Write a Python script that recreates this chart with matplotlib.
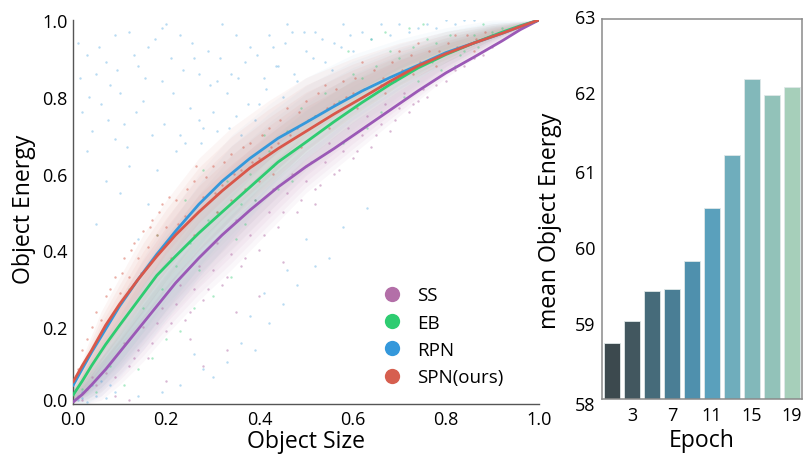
import matplotlib
matplotlib.use("Agg")
import matplotlib.pyplot as plt
from matplotlib.transforms import ScaledTranslation
from matplotlib.lines import Line2D

plt.rcParams['font.family'] = ['Open Sans', 'DejaVu Sans']

names = ["SS", "EB", "RPN", "SPN(ours)"]
marker_colors = ["#b36fa8", "#2ecc71", "#3498db", "#d65f4f"]
line_colors = ["#9b59b6", "#2ecc71", "#3498db", "#d9574a"]

curve_x = [0, .02, .04, .07, .1, .14, .18, .22, .27, .32, .38, .44, .5, .56, .62, .68, .74, .8, .86, .92, .96, 1]
curve_ss = [.005, .025, .05, .09, .135, .195, .255, .315, .38, .44, .505, .565, .618, .665, .715, .765, .815, .862, .903, .945, .975, 1]
curve_eb = [.023, .06, .10, .155, .205, .27, .335, .385, .445, .50, .565, .63, .682, .735, .785, .832, .875, .91, .94, .968, .985, 1]
curve_rpn = [.048, .092, .135, .195, .255, .325, .39, .45, .52, .58, .64, .692, .733, .775, .815, .85, .882, .915, .94, .965, .983, 1]
curve_spn = [.057, .10, .14, .205, .26, .325, .385, .44, .50, .555, .615, .665, .71, .755, .797, .84, .88, .912, .94, .965, .983, 1]

band_x = [0, .03, .06, .1, .15, .2, .27, .34, .42, .5, .6, .7, .8, .9, 1]
spn_hi = [.05, .15, .24, .33, .44, .53, .64, .72, .79, .85, .90, .94, .97, .99, 1]
spn_lo = [0, .03, .08, .14, .22, .30, .40, .48, .57, .66, .75, .83, .89, .95, 1]
rpn_hi = [.05, .12, .19, .27, .38, .48, .60, .70, .78, .85, .91, .95, .98, 1, 1]
rpn_lo = [0, 0, .02, .07, .14, .22, .33, .43, .54, .64, .74, .82, .89, .95, 1]
eb_hi = [.04, .10, .16, .23, .33, .41, .52, .61, .70, .78, .86, .92, .97, .99, 1]
eb_lo = [0, 0, .03, .08, .15, .22, .31, .40, .50, .60, .70, .79, .87, .94, 1]
ss_hi = [.02, .07, .12, .18, .26, .34, .44, .53, .62, .70, .79, .86, .92, .97, 1]
ss_lo = [0, 0, .01, .05, .11, .18, .27, .35, .45, .55, .65, .75, .85, .93, 1]
band_layers = [1.0, .8, .6, .4, .2]

# points
rpn_pts = [(.01, .94), (.03, .91), (.05, .86), (.07, .89), (.09, .96), (.10, .81), (.12, .97), (.13, .91), (.14, .88), (.16, .93),
           (.02, .76), (.04, .71), (.06, .78), (.08, .83), (.11, .73), (.15, .79), (.17, .70), (.19, .84), (.21, .90), (.23, .96),
           (.25, .77), (.27, .86), (.29, .92), (.31, .71), (.33, .81), (.35, .96), (.37, .89), (.39, .74), (.41, .85), (.43, .93),
           (.45, .80), (.47, .97), (.18, .61), (.22, .66), (.24, .68), (.26, .90), (.28, .72), (.30, .76), (.32, .99), (.34, .86),
           (.36, .70), (.38, .93), (.40, .78), (.42, .96), (.44, .88), (.46, .99), (.48, .84), (.50, .92), (.52, .97), (.54, .89),
           (.56, .94), (.58, .99), (.60, .92), (.62, .97), (.64, .95), (.66, .99), (.68, .96), (.70, .99), (.72, .97), (.74, .98),
           (.76, .99), (.78, .98), (.80, 1.0), (.82, .99), (.84, 1.0), (.86, 1.0), (.20, .99), (.12, .62), (.07, .58), (.03, .66),
           (.16, .52), (.10, .55), (.05, .47), (.09, .69), (.14, .43), (.19, .98), (.23, .70), (.27, .74), (.31, .84), (.35, .75),
           (.015, .85), (.035, .80), (.055, .93), (.075, .74), (.095, .87), (.115, .67), (.135, .76), (.155, .85), (.175, .95), (.195, .73),
           (.215, .81), (.235, .87), (.255, .94), (.275, .68), (.295, .83), (.315, .90), (.335, .72), (.355, .85), (.375, .78), (.395, .91),
           (.415, .82), (.435, .88), (.455, .94), (.475, .86), (.495, .97), (.515, .90), (.535, .95), (.555, .87), (.575, .93), (.595, .96),
           (.02, .03), (.03, .005), (.05, .02), (.07, .015), (.09, .03), (.04, .05), (.06, .06), (.08, .05), (.01, .01), (.02, .015),
           (.30, .07), (.33, .11), (.36, .16), (.39, .14), (.42, .21), (.45, .26), (.48, .31), (.52, .36), (.55, .38), (.26, .13),
           (.19, .03), (.23, .05), (.14, .02), (.28, .09), (.38, .23), (.41, .29), (.46, .35), (.50, .43), (.58, .46), (.63, .51)]
eb_pts = [(.02, .04), (.05, .03), (.08, .10), (.11, .05), (.14, .09), (.17, .12), (.20, .17), (.23, .19), (.26, .25), (.30, .28),
          (.34, .33), (.38, .60), (.42, .66), (.46, .71), (.50, .62), (.54, .81), (.58, .68), (.62, .85), (.66, .76), (.70, .90),
          (.74, .84), (.78, .94), (.82, .88), (.86, .96), (.90, .97), (.12, .30), (.18, .44), (.24, .53), (.28, .61), (.36, .52),
          (.44, .56), (.52, .75), (.60, .86), (.68, .92), (.76, .95), (.31, .50), (.37, .47), (.41, .70), (.47, .58), (.49, .77),
          (.55, .66), (.57, .79), (.63, .72), (.65, .88), (.71, .80), (.73, .93), (.79, .87), (.81, .96), (.84, .92), (.88, .99),
          (.15, .25), (.19, .30), (.22, .36), (.25, .42), (.27, .35), (.29, .48), (.33, .58), (.35, .43), (.39, .53), (.43, .62),
          (.92, .98), (.72, .98), (.75, .99), (.67, .97), (.59, .92), (.64, .95), (.69, .84), (.77, .89), (.83, .91), (.87, .93)]
spn_pts = [(.01, .09), (.02, .14), (.03, .17), (.04, .20), (.05, .24), (.06, .22), (.07, .28), (.08, .30), (.09, .33), (.10, .29),
           (.11, .38), (.12, .33), (.13, .42), (.14, .38), (.15, .45), (.16, .41), (.17, .48), (.18, .44), (.19, .52), (.20, .46),
           (.22, .53), (.24, .49), (.26, .58), (.28, .54), (.30, .62), (.32, .57), (.34, .65), (.36, .61), (.38, .68), (.40, .64),
           (.42, .72), (.44, .68), (.46, .77), (.48, .72), (.50, .79), (.52, .75), (.54, .83), (.56, .78), (.58, .84), (.60, .81),
           (.105, .34), (.125, .40), (.145, .34), (.165, .46), (.185, .50), (.205, .54), (.225, .47), (.245, .56), (.265, .62), (.285, .59),
           (.305, .55), (.325, .63), (.345, .60), (.365, .67), (.385, .63), (.405, .70), (.425, .67), (.445, .74), (.465, .70), (.485, .76),
           (.505, .74), (.525, .81), (.545, .77), (.565, .82), (.585, .80), (.605, .85), (.625, .82), (.645, .87), (.665, .85), (.685, .89),
           (.705, .87), (.725, .91), (.745, .89), (.765, .92), (.785, .92), (.805, .94), (.825, .93), (.845, .96), (.865, .95), (.885, .97),
           (.62, .89), (.66, .83), (.70, .92), (.74, .94), (.78, .88), (.82, .96), (.86, .92), (.90, .96), (.34, .53), (.40, .58),
           (.21, .38), (.26, .44), (.31, .50), (.37, .56), (.43, .60), (.49, .67), (.55, .72), (.61, .77), (.67, .81), (.73, .86)]
ss_pts = [(.01, .02), (.02, .01), (.03, .04), (.04, .07), (.05, .05), (.07, .08), (.09, .07), (.11, .16), (.13, .12), (.15, .20),
          (.17, .16), (.19, .25), (.21, .21), (.23, .31), (.25, .24), (.27, .36), (.29, .30), (.31, .42), (.33, .33), (.35, .48),
          (.37, .38), (.39, .53), (.41, .44), (.43, .56), (.45, .50), (.47, .60), (.49, .53), (.51, .63), (.53, .57), (.55, .68),
          (.57, .61), (.59, .72), (.61, .66), (.63, .75), (.65, .70), (.67, .78), (.69, .74), (.71, .81), (.73, .78), (.75, .82),
          (.20, .06), (.28, .10), (.33, .14), (.40, .28), (.09, .02), (.12, .01), (.25, .17), (.35, .24), (.45, .37), (.52, .52),
          (.12, .10), (.14, .14), (.16, .12), (.18, .21), (.20, .19), (.22, .26), (.24, .22), (.26, .30), (.28, .27), (.30, .35),
          (.32, .31), (.34, .39), (.36, .36), (.38, .44), (.40, .40), (.42, .50), (.44, .46), (.46, .55), (.48, .50), (.50, .58),
          (.52, .56), (.54, .63), (.56, .60), (.58, .66), (.60, .64), (.62, .70), (.64, .67), (.66, .73), (.68, .71), (.70, .77),
          (.72, .76), (.74, .79), (.76, .80), (.78, .83), (.80, .84), (.82, .87), (.84, .88), (.86, .90), (.88, .91), (.90, .93)]

epochs = [1, 3, 5, 7, 9, 11, 13, 15, 17, 19]
mean_energy = [58.74, 59.03, 59.42, 59.44, 59.81, 60.51, 61.2, 62.2, 62.0, 62.1]
bar_colors = ["#3c494e", "#42575f", "#466b7a", "#4a7e95", "#4f90ad", "#5aa0bc", "#6fadbc", "#82b8ba", "#92c2b9", "#a6cfba"]
bar_ticks = [3, 7, 11, 15, 19]

W, H = 805, 456
fig = plt.figure(figsize=(W / 100, H / 100), dpi=100)
ax = fig.add_axes([73 / W, 1 - 405 / H, 466 / W, 384 / H])

for lo, hi, c, a in [(ss_lo, ss_hi, marker_colors[0], .055), (eb_lo, eb_hi, marker_colors[1], .02),
                     (rpn_lo, rpn_hi, marker_colors[2], .03), (spn_lo, spn_hi, marker_colors[3], .055)]:
    mid = [(l + h) / 2 for l, h in zip(lo, hi)]
    for t in band_layers:
        ax.fill_between(band_x, [m + t * (l - m) for m, l in zip(mid, lo)],
                        [m + t * (h - m) for m, h in zip(mid, hi)], color=c, alpha=a, lw=0, zorder=1)
for pts, c, a in [(ss_pts, marker_colors[0], .5), (eb_pts, marker_colors[1], .4),
                  (rpn_pts, marker_colors[2], .35), (spn_pts, marker_colors[3], .5)]:
    ax.scatter([p[0] for p in pts], [p[1] for p in pts], s=3, color=c, alpha=a, lw=0, zorder=2)
for vals, c in zip([curve_ss, curve_eb, curve_rpn, curve_spn], line_colors):
    ax.plot(curve_x, vals, color=c, lw=2, zorder=3, solid_capstyle='round')

ax.set_xlim(0, 1)
ax.set_ylim(0, 1)
ax.set_xticks([0, .2, .4, .6, .8, 1])
ax.set_yticks([0, .2, .4, .6, .8, 1])
ax.tick_params(length=0, labelsize=13, pad=4)
for s in ('top', 'right'):
    ax.spines[s].set_visible(False)
for s in ('left', 'bottom'):
    ax.spines[s].set_color("#555555")
    ax.spines[s].set_linewidth(1)
lab0 = ax.get_yticklabels()[0]
lab0.set_transform(lab0.get_transform() + ScaledTranslation(0, 5 / 100, fig.dpi_scale_trans))
ax.set_xlabel("Object Size", fontsize=16.6, labelpad=1)
ax.set_ylabel("Object Energy", fontsize=16.6, labelpad=4, y=.51)

handles = [Line2D([], [], ls='', marker='o', ms=11, color=c, markeredgewidth=0) for c in marker_colors]
ax.legend(handles, names, frameon=False, loc='lower left', bbox_to_anchor=(.657, .046), fontsize=13.5,
          labelspacing=.5, handlelength=1.4, handletextpad=.63, borderpad=0, borderaxespad=0)

bx = fig.add_axes([602 / W, 1 - 400 / H, 200 / W, 380.5 / H])
bx.bar(epochs, mean_energy, width=1.6, color=bar_colors, edgecolor="#dfe8e8", linewidth=.6)
bx.set_xlim(0, 20)
bx.set_ylim(58, 63)
bx.set_xticks(bar_ticks)
bx.set_yticks([58, 59, 60, 61, 62, 63])
bx.tick_params(length=0, labelsize=13, pad=5)
for s in bx.spines.values():
    s.set_color("#8a8a8a")
    s.set_linewidth(1.1)
for lab, dy in zip(bx.get_yticklabels(), [-4, 0, 0, 0, 3, 3]):
    lab.set_transform(lab.get_transform() + ScaledTranslation(0, dy / 100, fig.dpi_scale_trans))
bx.set_xlabel("Epoch", fontsize=16.6, labelpad=3)
bx.set_ylabel("mean Object Energy", fontsize=16.6, labelpad=9, y=.47)

fig.savefig("out.png", dpi=100)
